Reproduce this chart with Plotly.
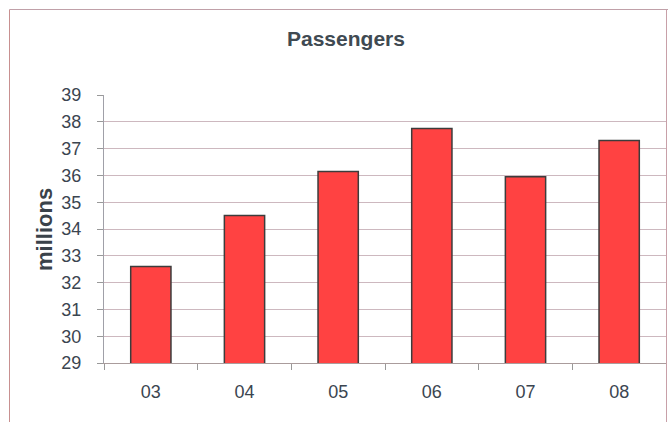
import plotly.graph_objects as go

categories = ["03", "04", "05", "06", "07", "08"]
passengers = [32.6, 34.5, 36.15, 37.75, 35.95, 37.3]
y_ticks = list(range(29, 40))

W, H = 668, 422
L, R, T, B = 104, 2, 95, 59
pw = W - L - R
ph = H - T - B

def px_x(x):
    return (x - L) / pw

def px_y(y):
    return 1 - (y - T) / ph

font_fam = "Liberation Sans, Arial, sans-serif"
txt_col = "#3b4550"

fig = go.Figure(go.Bar(
    x=categories, y=passengers,
    marker=dict(color="#ff4242", line=dict(color="#3c3c3c", width=1.5)),
    width=0.43,
))

fig.update_layout(
    width=W, height=H,
    margin=dict(l=L, r=R, t=T, b=B),
    paper_bgcolor="white", plot_bgcolor="white",
    showlegend=False,
    font=dict(family=font_fam, color=txt_col, size=18),
    xaxis=dict(
        type="category", tickson="boundaries", ticks="outside", ticklen=6,
        tickcolor="#999999", showline=True, linecolor="#aa9c9c", linewidth=1,
        showgrid=False, tickfont=dict(size=18, color=txt_col), ticklabelstandoff=12,
    ),
    yaxis=dict(
        range=[29, 39], tickvals=y_ticks, ticks="outside", ticklen=6,
        tickcolor="#999999", showline=True, linecolor="#a0a0a8", linewidth=1,
        showgrid=True, gridcolor="#cdb8bf", gridwidth=1, zeroline=False,
        tickfont=dict(size=18, color=txt_col), ticklabelstandoff=12,
    ),
    annotations=[
        dict(text="<b>Passengers</b>", x=px_x(346), y=px_y(38), xref="paper", yref="paper",
             showarrow=False, font=dict(size=21, color="#404a52", family=font_fam),
             xanchor="center", yanchor="middle"),
        dict(text="<b>millions</b>", x=px_x(44), y=px_y(230), xref="paper", yref="paper",
             showarrow=False, textangle=-90, font=dict(size=22, color="#3a424a", family=font_fam),
             xanchor="center", yanchor="middle"),
    ],
    shapes=[
        dict(type="line", xref="paper", yref="paper", x0=px_x(9.5), x1=px_x(9.5),
             y0=px_y(9.5), y1=px_y(430), line=dict(color="#c89090", width=1)),
        dict(type="line", xref="paper", yref="paper", x0=px_x(9.5), x1=px_x(680),
             y0=px_y(9.5), y1=px_y(9.5), line=dict(color="#c0a0a8", width=1)),
        dict(type="line", xref="paper", yref="paper", x0=px_x(666.5), x1=px_x(666.5),
             y0=px_y(9.5), y1=px_y(430), line=dict(color="#c8a0a8", width=1)),
    ],
)

fig.write_html("out.html")
